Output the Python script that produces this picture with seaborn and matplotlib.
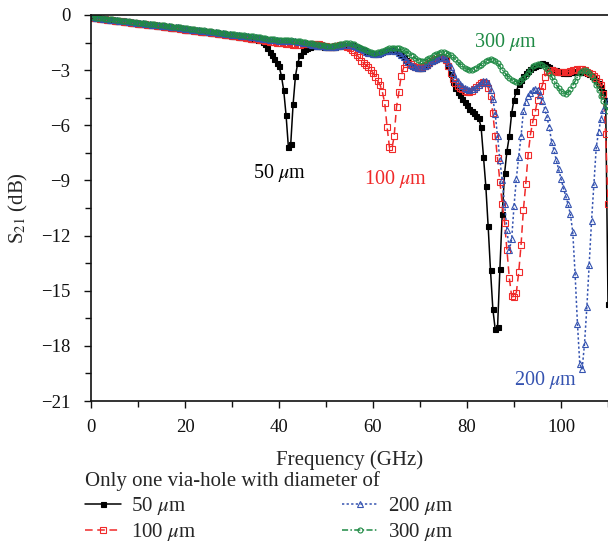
import numpy as np
import pandas as pd
import matplotlib.pyplot as plt
from matplotlib.ticker import MultipleLocator
import seaborn as sns

sns.set_style("ticks")
plt.rcParams['font.family'] = ['Liberation Serif', 'DejaVu Serif']
plt.rcParams['mathtext.fontset'] = 'stix'

# frequency sweep (GHz), 0.5 GHz step
freq = np.arange(0, 110.5, 0.5)

# S21 (dB) for one via-hole of each diameter
s21_50um = [
    -0.12, -0.15, -0.17, -0.19, -0.21, -0.22, -0.24, -0.25, -0.27, -0.28,
    -0.30, -0.31, -0.33, -0.35, -0.37, -0.38, -0.40, -0.41, -0.43, -0.44,
    -0.47, -0.48, -0.50, -0.51, -0.53, -0.54, -0.56, -0.57, -0.59, -0.61,
    -0.62, -0.64, -0.66, -0.67, -0.69, -0.70, -0.72, -0.73, -0.75, -0.76,
    -0.79, -0.80, -0.82, -0.84, -0.85, -0.87, -0.89, -0.90, -0.92, -0.94,
    -0.95, -0.97, -0.99, -1.00, -1.02, -1.04, -1.05, -1.07, -1.09, -1.10,
    -1.12, -1.14, -1.16, -1.18, -1.20, -1.22, -1.24, -1.26, -1.28, -1.29,
    -1.31, -1.34, -1.38, -1.46, -1.60, -1.80, -2.00, -2.20, -2.42, -2.60,
    -2.78, -3.30, -4.10, -5.45, -7.20, -7.00, -4.85, -3.32, -2.60, -2.20,
    -1.98, -1.86, -1.80, -1.74, -1.70, -1.68, -1.68, -1.69, -1.71, -1.73,
    -1.74, -1.75, -1.76, -1.75, -1.73, -1.70, -1.68, -1.65, -1.63, -1.62,
    -1.63, -1.65, -1.68, -1.74, -1.80, -1.86, -1.93, -1.99, -2.05, -2.09,
    -2.10, -2.11, -2.10, -2.07, -2.02, -1.98, -1.95, -1.93, -1.92, -1.94,
    -1.98, -2.05, -2.15, -2.30, -2.45, -2.58, -2.70, -2.79, -2.85, -2.89,
    -2.90, -2.86, -2.80, -2.70, -2.60, -2.52, -2.45, -2.38, -2.32, -2.29,
    -2.28, -2.45, -2.80, -3.20, -3.65, -3.95, -4.20, -4.38, -4.55, -4.72,
    -4.90, -5.10, -5.22, -5.35, -5.48, -5.62, -6.10, -7.70, -9.30, -11.50,
    -13.90, -16.00, -17.10, -17.00, -13.80, -10.80, -8.60, -7.40, -6.60, -5.35,
    -4.60, -4.15, -3.78, -3.52, -3.32, -3.16, -3.05, -2.95, -2.85, -2.78,
    -2.70, -2.65, -2.62, -2.65, -2.75, -2.85, -2.92, -2.98, -3.02, -3.08,
    -3.12, -3.15, -3.16, -3.15, -3.12, -3.10, -3.08, -3.07, -3.08, -3.10,
    -3.12, -3.15, -3.20, -3.30, -3.40, -3.55, -3.70, -3.90, -4.20, -4.60,
    -15.70,
]
s21_100um = [
    -0.12, -0.15, -0.17, -0.19, -0.21, -0.22, -0.24, -0.25, -0.27, -0.28,
    -0.30, -0.31, -0.33, -0.35, -0.37, -0.38, -0.40, -0.41, -0.43, -0.44,
    -0.47, -0.48, -0.50, -0.51, -0.53, -0.54, -0.56, -0.57, -0.59, -0.61,
    -0.62, -0.64, -0.66, -0.67, -0.69, -0.70, -0.72, -0.73, -0.75, -0.76,
    -0.79, -0.80, -0.82, -0.84, -0.85, -0.87, -0.89, -0.90, -0.92, -0.94,
    -0.95, -0.97, -0.99, -1.00, -1.02, -1.04, -1.05, -1.07, -1.09, -1.10,
    -1.12, -1.14, -1.16, -1.18, -1.20, -1.22, -1.24, -1.26, -1.28, -1.29,
    -1.31, -1.33, -1.35, -1.37, -1.40, -1.42, -1.45, -1.47, -1.49, -1.51,
    -1.52, -1.54, -1.55, -1.57, -1.58, -1.60, -1.61, -1.62, -1.62, -1.61,
    -1.60, -1.59, -1.58, -1.57, -1.56, -1.56, -1.57, -1.60, -1.63, -1.66,
    -1.68, -1.72, -1.74, -1.73, -1.70, -1.66, -1.64, -1.64, -1.66, -1.72,
    -1.80, -1.90, -2.00, -2.15, -2.30, -2.48, -2.62, -2.72, -2.82, -2.98,
    -3.15, -3.38, -3.60, -3.80, -4.20, -4.80, -6.10, -7.20, -7.30, -6.60,
    -5.00, -4.20, -3.30, -2.88, -2.65, -2.56, -2.68, -2.78, -2.85, -2.89,
    -2.90, -2.85, -2.80, -2.70, -2.60, -2.52, -2.45, -2.38, -2.32, -2.30,
    -2.32, -2.45, -2.75, -3.15, -3.50, -3.70, -3.85, -3.95, -4.05, -4.12,
    -4.17, -4.17, -4.15, -4.05, -3.92, -3.80, -3.68, -3.62, -3.70, -3.95,
    -4.40, -5.35, -6.60, -7.80, -9.10, -10.30, -11.30, -12.80, -14.30, -15.30,
    -15.35, -15.10, -14.00, -12.50, -10.60, -9.20, -7.60, -6.50, -5.80, -5.30,
    -4.60, -4.15, -3.85, -3.40, -3.12, -3.00, -3.02, -3.05, -3.08, -3.10,
    -3.10, -3.10, -3.08, -3.08, -3.05, -3.00, -2.97, -2.95, -2.93, -2.95,
    -3.00, -3.08, -3.15, -3.22, -3.30, -3.45, -3.62, -3.80, -4.30, -6.50,
    -10.30,
]
s21_200um = [
    -0.11, -0.13, -0.15, -0.17, -0.19, -0.20, -0.22, -0.23, -0.25, -0.26,
    -0.28, -0.29, -0.31, -0.32, -0.34, -0.35, -0.37, -0.38, -0.40, -0.41,
    -0.43, -0.44, -0.46, -0.47, -0.49, -0.50, -0.52, -0.53, -0.55, -0.56,
    -0.58, -0.59, -0.61, -0.62, -0.64, -0.65, -0.67, -0.68, -0.70, -0.71,
    -0.74, -0.75, -0.77, -0.79, -0.80, -0.82, -0.84, -0.85, -0.87, -0.89,
    -0.90, -0.92, -0.94, -0.95, -0.97, -0.99, -1.00, -1.02, -1.04, -1.05,
    -1.07, -1.08, -1.10, -1.11, -1.13, -1.14, -1.16, -1.17, -1.19, -1.20,
    -1.22, -1.24, -1.26, -1.28, -1.30, -1.32, -1.34, -1.35, -1.36, -1.38,
    -1.39, -1.40, -1.41, -1.42, -1.43, -1.43, -1.44, -1.44, -1.45, -1.47,
    -1.50, -1.52, -1.55, -1.58, -1.61, -1.63, -1.66, -1.68, -1.69, -1.71,
    -1.74, -1.75, -1.76, -1.75, -1.73, -1.70, -1.68, -1.65, -1.63, -1.62,
    -1.63, -1.65, -1.68, -1.74, -1.80, -1.86, -1.93, -1.99, -2.05, -2.09,
    -2.10, -2.11, -2.10, -2.07, -2.02, -1.98, -1.95, -1.93, -1.92, -1.94,
    -1.98, -2.05, -2.15, -2.30, -2.45, -2.58, -2.70, -2.79, -2.85, -2.89,
    -2.90, -2.86, -2.80, -2.70, -2.60, -2.52, -2.45, -2.38, -2.32, -2.29,
    -2.28, -2.40, -2.62, -2.85, -3.15, -3.42, -3.60, -3.75, -3.88, -3.95,
    -4.02, -4.06, -4.05, -4.00, -3.92, -3.82, -3.70, -3.60, -3.57, -3.72,
    -4.10, -4.55, -5.40, -6.60, -7.90, -9.00, -10.30, -11.70, -12.80, -12.20,
    -10.40, -8.90, -7.70, -6.60, -5.20, -4.75, -4.40, -4.22, -4.06, -4.02,
    -4.08, -4.35, -4.70, -5.10, -5.55, -6.10, -6.90, -7.35, -7.90, -8.40,
    -8.90, -9.40, -9.85, -10.30, -10.85, -11.80, -14.10, -16.80, -19.00, -19.25,
    -17.90, -15.90, -13.60, -11.20, -9.20, -7.20, -6.35, -5.65, -5.15, -4.85,
    -4.60,
]
s21_300um = [
    -0.10, -0.12, -0.14, -0.15, -0.17, -0.18, -0.20, -0.21, -0.23, -0.24,
    -0.26, -0.27, -0.29, -0.30, -0.32, -0.33, -0.35, -0.36, -0.38, -0.39,
    -0.41, -0.42, -0.44, -0.45, -0.47, -0.48, -0.50, -0.51, -0.53, -0.54,
    -0.56, -0.57, -0.59, -0.60, -0.62, -0.63, -0.65, -0.66, -0.68, -0.69,
    -0.71, -0.72, -0.74, -0.76, -0.77, -0.79, -0.81, -0.82, -0.84, -0.86,
    -0.87, -0.89, -0.91, -0.92, -0.94, -0.96, -0.97, -0.99, -1.01, -1.02,
    -1.04, -1.05, -1.07, -1.08, -1.10, -1.11, -1.13, -1.14, -1.16, -1.17,
    -1.19, -1.20, -1.22, -1.24, -1.26, -1.28, -1.30, -1.31, -1.32, -1.34,
    -1.35, -1.36, -1.36, -1.37, -1.38, -1.38, -1.39, -1.39, -1.40, -1.42,
    -1.45, -1.47, -1.50, -1.53, -1.55, -1.57, -1.60, -1.62, -1.63, -1.65,
    -1.66, -1.67, -1.68, -1.67, -1.65, -1.62, -1.60, -1.57, -1.55, -1.54,
    -1.55, -1.57, -1.60, -1.66, -1.72, -1.78, -1.85, -1.91, -1.97, -2.01,
    -2.05, -2.05, -2.03, -2.00, -1.95, -1.90, -1.85, -1.81, -1.78, -1.77,
    -1.78, -1.81, -1.85, -1.91, -1.98, -2.06, -2.15, -2.25, -2.35, -2.44,
    -2.50, -2.51, -2.48, -2.42, -2.35, -2.27, -2.18, -2.11, -2.06, -2.03,
    -2.02, -2.05, -2.10, -2.19, -2.30, -2.42, -2.55, -2.68, -2.80, -2.89,
    -2.95, -2.99, -3.00, -2.96, -2.90, -2.80, -2.70, -2.60, -2.50, -2.43,
    -2.40, -2.43, -2.50, -2.63, -2.80, -2.97, -3.15, -3.30, -3.42, -3.52,
    -3.60, -3.63, -3.62, -3.55, -3.45, -3.31, -3.15, -2.97, -2.80, -2.70,
    -2.65, -2.66, -2.70, -2.81, -2.95, -3.14, -3.35, -3.58, -3.80, -3.99,
    -4.15, -4.24, -4.28, -4.20, -4.05, -3.83, -3.60, -3.36, -3.15, -3.04,
    -3.00, -3.05, -3.15, -3.33, -3.55, -3.81, -4.10, -4.40, -4.70, -4.95,
    -5.20,
]

series = [s21_50um, s21_100um, s21_200um, s21_300um]
labels = ['50 $\\mu$m', '100 $\\mu$m', '200 $\\mu$m', '300 $\\mu$m']
colors = ['#000000', '#f02a2a', '#3553b0', '#1f8a45']

styles = [
    dict(linestyle='-', marker='s', markersize=3.6, markerfacecolor='#000000'),
    dict(linestyle=(0, (5, 3)), marker='s', markersize=3.8, markerfacecolor='none'),
    dict(linestyle=(0, (1.5, 1.5)), marker='^', markersize=4.2, markerfacecolor='none'),
    dict(linestyle=(0, (4, 1.5, 1, 1.5)), marker='o', markersize=3.6, markerfacecolor='none'),
]

fig = plt.figure(figsize=(6.08, 5.43), dpi=100)
ax = fig.add_axes([0.1497, 0.2615, 0.8503, 0.7109])

for vals, lab, col, st in zip(series, labels, colors, styles):
    df = pd.DataFrame({'freq': freq, 's21': vals})
    sns.lineplot(data=df, x='freq', y='s21', ax=ax, color=col, label=lab,
                 legend=False, linewidth=1.1, markeredgecolor=col,
                 markeredgewidth=0.8, **st)

ax.set_xlim(0, 110)
ax.set_ylim(-21, 0)
ax.set_xticks(np.arange(0, 101, 20))
ax.set_yticks(np.arange(-21, 1, 3))
ax.xaxis.set_minor_locator(MultipleLocator(10))
ax.yaxis.set_minor_locator(MultipleLocator(1.5))
ax.tick_params(which='both', direction='out', width=1.0, labelsize=13.5, colors='#111111')
ax.tick_params(which='major', length=5)
ax.tick_params(which='minor', length=4)
ax.tick_params(axis='x', pad=8)
ax.tick_params(axis='y', pad=10)
for side in ['left', 'bottom', 'top']:
    ax.spines[side].set_linewidth(1.2)
    ax.spines[side].set_color('#111111')
ax.spines['right'].set_visible(False)

ax.set_xlabel('Frequency (GHz)', fontsize=15, labelpad=10)
ax.set_ylabel('S$_{21}$ (dB)', fontsize=15, labelpad=8)

ax.text(40.2, -8.6, '50 $\\mu$m', color='#000000', fontsize=14.5, ha='center', va='center')
ax.text(64.7, -8.9, '100 $\\mu$m', color='#f02a2a', fontsize=14.5, ha='center', va='center')
ax.text(96.8, -19.85, '200 $\\mu$m', color='#3553b0', fontsize=14.5, ha='center', va='center')
ax.text(88.1, -1.45, '300 $\\mu$m', color='#1f8a45', fontsize=14.5, ha='center', va='center')

leg = ax.legend(ax.lines[:4], labels, title='Only one via-hole with diameter of',
                loc='upper left', bbox_to_anchor=(0.14, 0.133),
                bbox_transform=fig.transFigure, ncol=2, frameon=False,
                fontsize=15, title_fontsize=15, alignment='left',
                handlelength=1.7, handletextpad=0.5, columnspacing=7.0,
                labelspacing=0.2, borderpad=0, borderaxespad=0)

fig.savefig('out.png', dpi=100)
